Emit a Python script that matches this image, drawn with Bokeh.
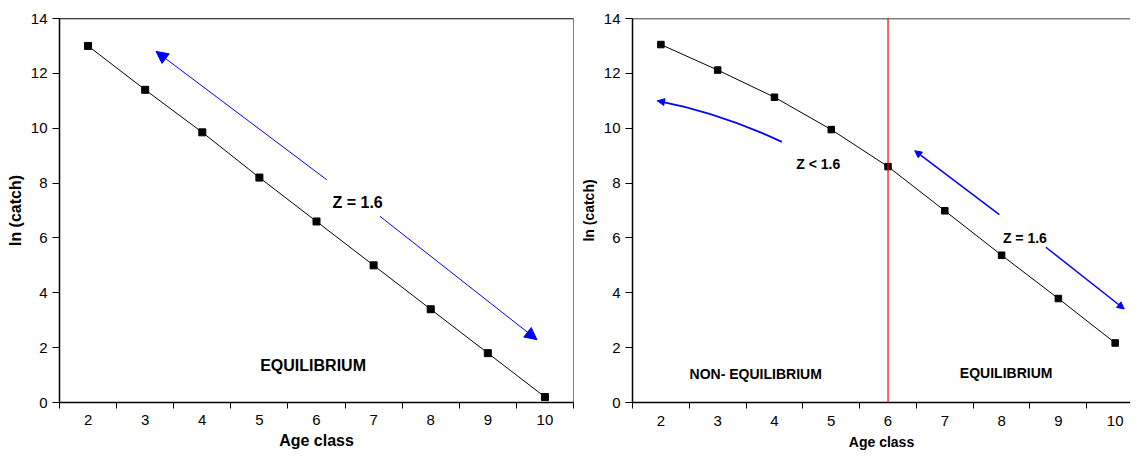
from bokeh.plotting import figure
from bokeh.layouts import row
from bokeh.models import ColumnDataSource, FixedTicker, Range1d, Span, Arrow, NormalHead
from bokeh.core.properties import value
from bokeh.embed import file_html
from bokeh.resources import INLINE

# ---------------- data ----------------
age_classes = [2, 3, 4, 5, 6, 7, 8, 9, 10]
ln_catch_equilibrium = [13.0, 11.4, 9.85, 8.2, 6.6, 5.0, 3.4, 1.8, 0.2]
ln_catch_non_equilibrium = [13.05, 12.12, 11.13, 9.95, 8.6, 6.99, 5.37, 3.79, 2.17]
y_ticks = [0, 2, 4, 6, 8, 10, 12, 14]
category_edges = [1.5, 2.5, 3.5, 4.5, 5.5, 6.5, 7.5, 8.5, 9.5, 10.5]
split_age = 6

# annotations, left panel
left_texts = ["Z = 1.6", "EQUILIBRIUM"]
left_text_x = [6.72, 5.94]
left_text_y = [7.3, 1.34]
left_arrow_x0 = [6.18, 7.11]
left_arrow_y0 = [8.12, 6.79]
left_arrow_x1 = [3.19, 9.86]
left_arrow_y1 = [12.8, 2.29]

# annotations, right panel
right_texts = ["Z < 1.6", "Z = 1.6", "NON- EQUILIBRIUM", "EQUILIBRIUM"]
right_text_x = [4.77, 8.41, 3.67, 8.08]
right_text_y = [8.69, 5.98, 1.03, 1.07]
right_arrow_x0 = [7.96, 8.78]
right_arrow_y0 = [6.85, 5.66]
right_arrow_x1 = [6.47, 10.16]
right_arrow_y1 = [9.18, 3.41]
curve_start = (4.13, 9.5)
curve_end = (1.94, 11.0)
curve_ctrl = (3.065, 10.55)

FONT = "Liberation Sans"
BLUE = "#0000FF"


def style_axes(p, tick_size, title_size, x_standoff, x_title_standoff, y_title_standoff):
    p.xgrid.visible = False
    p.ygrid.visible = False
    for ax in (p.xaxis[0], p.yaxis[0]):
        ax.axis_line_color = "black"
        ax.axis_line_width = 1.5
        ax.major_label_text_font = FONT
        ax.major_label_text_font_size = tick_size
        ax.major_label_text_color = "black"
        ax.axis_label_text_font = FONT
        ax.axis_label_text_font_style = "bold"
        ax.axis_label_text_font_size = title_size
        ax.axis_label_text_color = "black"
    xa = p.xaxis[0]
    xa.ticker = FixedTicker(ticks=age_classes, minor_ticks=category_edges)
    xa.major_tick_line_color = None
    xa.major_tick_out = 6
    xa.major_tick_in = 0
    xa.minor_tick_line_color = "black"
    xa.minor_tick_out = 6
    xa.minor_tick_in = 0
    xa.major_label_standoff = x_standoff
    xa.axis_label_standoff = x_title_standoff
    xa.axis_label = "Age class"
    ya = p.yaxis[0]
    ya.ticker = FixedTicker(ticks=y_ticks)
    ya.minor_tick_line_color = None
    ya.major_tick_line_color = "black"
    ya.major_tick_out = 7
    ya.major_tick_in = 0
    ya.major_label_standoff = 5
    ya.axis_label_standoff = y_title_standoff
    ya.axis_label = "ln (catch)"


# ---------------- left panel ----------------
p1 = figure(title=None, width=574, height=452, x_range=Range1d(1.5, 10.5), y_range=Range1d(0, 14),
            output_backend="svg", toolbar_location=None,
            min_border_left=59, min_border_right=1, min_border_top=18, min_border_bottom=50)
p1.outline_line_color = "#808080"
style_axes(p1, "15px", "16px", 6, 4, 4)

src1 = ColumnDataSource(dict(x=age_classes, y=ln_catch_equilibrium))
p1.line("x", "y", source=src1, line_color="black", line_width=1)
p1.scatter("x", "y", source=src1, marker="square", size=7, color="black")

p1.add_layout(Span(location=14, dimension="width", line_color="black", line_width=1.5))

for i in range(len(left_arrow_x0)):
    p1.add_layout(Arrow(end=NormalHead(size=12, fill_color=BLUE, line_color=BLUE),
                        x_start=left_arrow_x0[i], y_start=left_arrow_y0[i],
                        x_end=left_arrow_x1[i], y_end=left_arrow_y1[i],
                        line_color=BLUE, line_width=1))

tsrc1 = ColumnDataSource(dict(x=left_text_x, y=left_text_y, t=left_texts))
p1.text("x", "y", text="t", source=tsrc1, text_font=value(FONT), text_font_style="bold",
        text_font_size=value("16px"), text_align="center", text_baseline="middle",
        text_color="black")

# ---------------- right panel ----------------
p2 = figure(title=None, width=556, height=452, x_range=Range1d(1.5, 10.27), y_range=Range1d(0, 14),
            output_backend="svg", toolbar_location=None,
            min_border_left=58, min_border_right=0, min_border_top=18, min_border_bottom=50)
p2.outline_line_color = None
style_axes(p2, "15px", "14px", 7, 5, 4)

src2 = ColumnDataSource(dict(x=age_classes, y=ln_catch_non_equilibrium))
p2.line("x", "y", source=src2, line_color="black", line_width=1)
p2.scatter("x", "y", source=src2, marker="square", size=6.5, color="black")

p2.add_layout(Span(location=14, dimension="width", line_color="black", line_width=1.5))
p2.add_layout(Span(location=split_age, dimension="height", line_color="red", line_width=1.2))

p2.quadratic(x0=[curve_start[0]], y0=[curve_start[1]], x1=[curve_end[0]], y1=[curve_end[1]],
             cx=[curve_ctrl[0]], cy=[curve_ctrl[1]], line_color=BLUE, line_width=1.8)
ax_s = curve_end[0] + 0.1 * (curve_ctrl[0] - curve_end[0])
ay_s = curve_end[1] + 0.1 * (curve_ctrl[1] - curve_end[1])
p2.add_layout(Arrow(end=NormalHead(size=7, fill_color=BLUE, line_color=BLUE),
                    x_start=ax_s, y_start=ay_s, x_end=curve_end[0], y_end=curve_end[1],
                    line_color=BLUE, line_width=1.5))

for i in range(len(right_arrow_x0)):
    p2.add_layout(Arrow(end=NormalHead(size=7, fill_color=BLUE, line_color=BLUE),
                        x_start=right_arrow_x0[i], y_start=right_arrow_y0[i],
                        x_end=right_arrow_x1[i], y_end=right_arrow_y1[i],
                        line_color=BLUE, line_width=1.5))

tsrc2 = ColumnDataSource(dict(x=right_text_x, y=right_text_y, t=right_texts))
p2.text("x", "y", text="t", source=tsrc2, text_font=value(FONT), text_font_style="bold",
        text_font_size=value("14px"), text_align="center", text_baseline="middle",
        text_color="black")

layout = row(p1, p2)
open("out.html", "w").write(file_html(layout, INLINE))
